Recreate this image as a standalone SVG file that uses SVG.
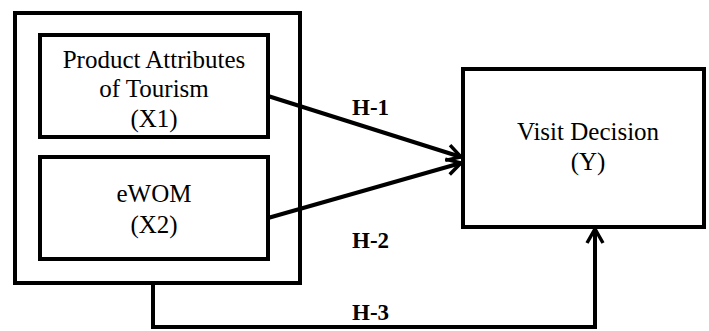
<svg xmlns="http://www.w3.org/2000/svg" width="709" height="331" viewBox="0 0 709 331">
<style>
.box{fill:#fff;stroke:#000;stroke-width:4}
.t{font-family:"Liberation Serif","Times New Roman",serif;font-size:25px;fill:#000;text-anchor:middle}
.h{font-family:"Liberation Serif","Times New Roman",serif;font-size:23px;font-weight:bold;fill:#000}
.c{fill:none;stroke:#000;stroke-width:4}
</style>
<defs>
<marker id="arr" viewBox="0 0 20 20" refX="18" refY="10" markerWidth="20" markerHeight="20" markerUnits="userSpaceOnUse" orient="auto">
<polyline points="4,2 18,10 4,18" fill="none" stroke="#000" stroke-width="3.5"/>
</marker>
</defs>
<g id="outer"><rect class="box" x="15" y="13" width="285" height="270"/></g>
<g id="x1">
<rect class="box" x="40" y="35" width="228" height="102"/>
<text class="t" x="154" y="68">Product Attributes</text>
<text class="t" x="154" y="97">of Tourism</text>
<text class="t" x="154" y="127">(X1)</text>
</g>
<g id="x2">
<rect class="box" x="40" y="157" width="228" height="102"/>
<text class="t" x="154" y="202">eWOM</text>
<text class="t" x="154" y="233">(X2)</text>
</g>
<g id="y">
<rect class="box" x="463" y="69" width="241" height="158"/>
<text class="t" x="588" y="140">Visit Decision</text>
<text class="t" x="588" y="170">(Y)</text>
</g>
<g id="connectors">
<line class="c" x1="268" y1="96" x2="461" y2="157" marker-end="url(#arr)"/>
<line class="c" x1="268" y1="218" x2="461" y2="163" marker-end="url(#arr)"/>
<polyline class="c" points="153,283 153,327 595,327 595,229" marker-end="url(#arr)"/>
<text class="h" x="352" y="115">H-1</text>
<text class="h" x="352" y="248">H-2</text>
<text class="h" x="352" y="320">H-3</text>
</g>
</svg>
